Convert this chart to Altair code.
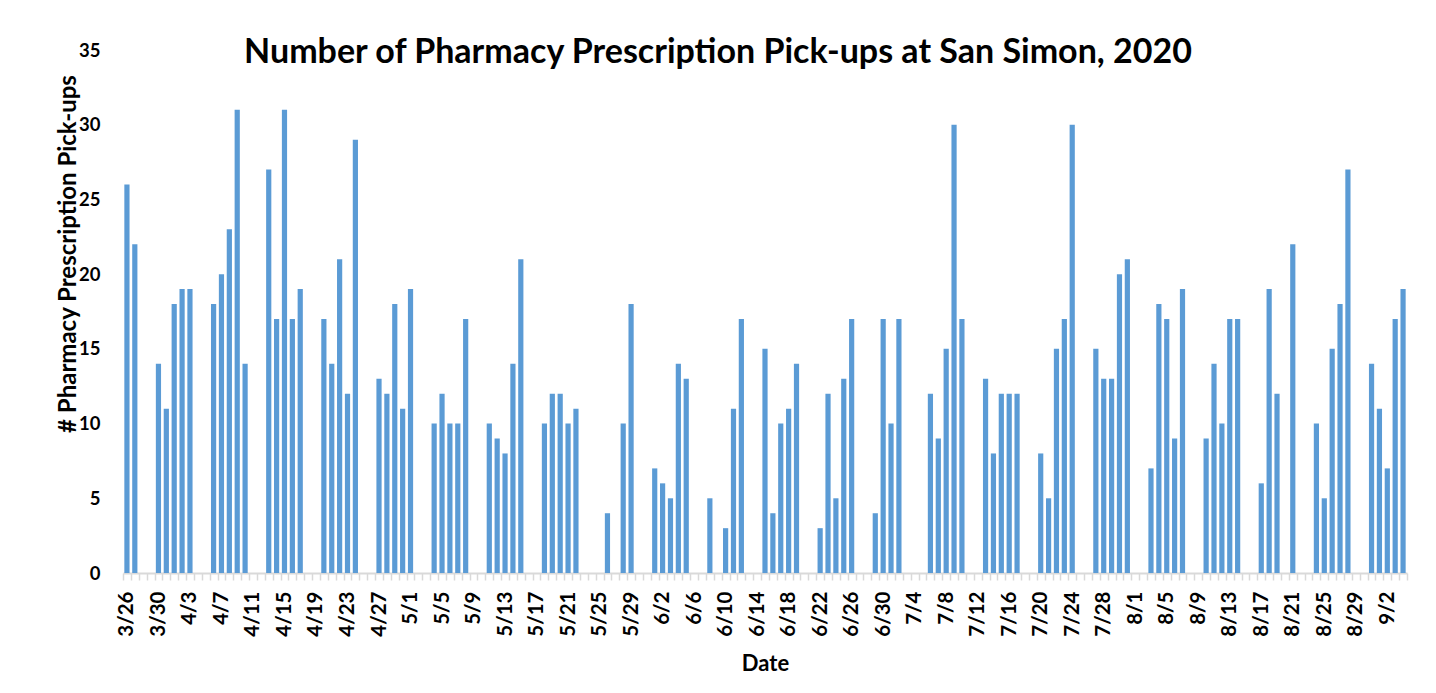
import altair as alt
import pandas as pd

# Categories: one bar slot per calendar day, 3/26/2020 .. 9/4/2020
DATES = [f"{d.month}/{d.day}" for d in pd.date_range("2020-03-26", "2020-09-04", freq="D")]

# Number of pick-ups per day (0 = no bar)
PICKUPS = [
    26, 22, 0, 0, 14, 11, 18, 19, 19, 0, 0,          # 3/26 - 4/5
    18, 20, 23, 31, 14, 0, 0,                        # 4/6 - 4/12
    27, 17, 31, 17, 19, 0, 0,                        # 4/13 - 4/19
    17, 14, 21, 12, 29, 0, 0,                        # 4/20 - 4/26
    13, 12, 18, 11, 19, 0, 0,                        # 4/27 - 5/3
    10, 12, 10, 10, 17, 0, 0,                        # 5/4 - 5/10
    10, 9, 8, 14, 21, 0, 0,                          # 5/11 - 5/17
    10, 12, 12, 10, 11, 0, 0,                        # 5/18 - 5/24
    0, 4, 0, 10, 18, 0, 0,                           # 5/25 - 5/31
    7, 6, 5, 14, 13, 0, 0,                           # 6/1 - 6/7
    5, 0, 3, 11, 17, 0, 0,                           # 6/8 - 6/14
    15, 4, 10, 11, 14, 0, 0,                         # 6/15 - 6/21
    3, 12, 5, 13, 17, 0, 0,                          # 6/22 - 6/28
    4, 17, 10, 17, 0, 0, 0,                          # 6/29 - 7/5
    12, 9, 15, 30, 17, 0, 0,                         # 7/6 - 7/12
    13, 8, 12, 12, 12, 0, 0,                         # 7/13 - 7/19
    8, 5, 15, 17, 30, 0, 0,                          # 7/20 - 7/26
    15, 13, 13, 20, 21, 0, 0,                        # 7/27 - 8/2
    7, 18, 17, 9, 19, 0, 0,                          # 8/3 - 8/9
    9, 14, 10, 17, 17, 0, 0,                         # 8/10 - 8/16
    6, 19, 12, 0, 22, 0, 0,                          # 8/17 - 8/23
    10, 5, 15, 18, 27, 0, 0,                         # 8/24 - 8/30
    14, 11, 7, 17, 19,                               # 8/31 - 9/4
]

TICK_LABELS = [
    "3/26", "3/30", "4/3", "4/7", "4/11", "4/15", "4/19", "4/23", "4/27",
    "5/1", "5/5", "5/9", "5/13", "5/17", "5/21", "5/25", "5/29",
    "6/2", "6/6", "6/10", "6/14", "6/18", "6/22", "6/26", "6/30",
    "7/4", "7/8", "7/12", "7/16", "7/20", "7/24", "7/28",
    "8/1", "8/5", "8/9", "8/13", "8/17", "8/21", "8/25", "8/29", "9/2",
]
Y_TICKS = [0, 5, 10, 15, 20, 25, 30, 35]

df = pd.DataFrame({"date": DATES, "pickups": PICKUPS})

label_expr = (
    "indexof([" + ",".join(f"'{t}'" for t in TICK_LABELS) + "], datum.value) >= 0 ? datum.value : ''"
)

FONT = "Lato"

chart = (
    alt.Chart(df)
    .mark_bar(color="#5B9BD5", width=alt.RelativeBandSize(0.66))
    .encode(
        x=alt.X(
            "date:N",
            sort=DATES,
            scale=alt.Scale(paddingInner=0, paddingOuter=0),
            axis=alt.Axis(
                title="Date",
                labelAngle=270,
                labelExpr=label_expr,
                labelOverlap=False,
                labelFont=FONT,
                labelFontWeight="bold",
                labelFontSize=20.5,
                labelColor="black",
                labelPadding=11,
                tickBand="extent",
                tickColor="#D9D9D9",
                tickSize=7,
                tickWidth=1.5,
                domainColor="#D9D9D9",
                domainWidth=2,
                grid=False,
                titleFont=FONT,
                titleFontSize=22,
                titleFontWeight="bold",
                titleColor="black",
                titleY=97,
                titleBaseline="alphabetic",
            ),
        ),
        y=alt.Y(
            "pickups:Q",
            scale=alt.Scale(domain=[0, 35], nice=False),
            axis=alt.Axis(
                title="# Pharmacy Prescription Pick-ups",
                values=Y_TICKS,
                domain=False,
                ticks=False,
                tickSize=0,
                grid=False,
                labelPadding=23,
                labelFont=FONT,
                labelFontWeight="bold",
                labelFontSize=18.5,
                labelColor="black",
                titleFont=FONT,
                titleFontSize=24,
                titleFontWeight="bold",
                titleColor="black",
                titleX=-48,
                titleY=203.5,
                titleAngle=270,
                titleAlign="center",
                titleBaseline="alphabetic",
            ),
        ),
    )
    .properties(
        width=1284,
        height=523,
        background="white",
        title=alt.TitleParams(
            text="Number of Pharmacy Prescription Pick-ups at San Simon, 2020",
            font=FONT,
            fontSize=34,
            fontWeight="bold",
            color="black",
            anchor="middle",
            frame="group",
            dx=-47,
            dy=56,
            offset=0,
            baseline="alphabetic",
        ),
        autosize=alt.AutoSizeParams(type="none"),
        padding={"left": 115, "top": 42, "right": 21, "bottom": 110},
    )
    .configure_view(strokeWidth=0)
)

chart.save("out.html", embed_options={"renderer": "svg", "actions": False})
